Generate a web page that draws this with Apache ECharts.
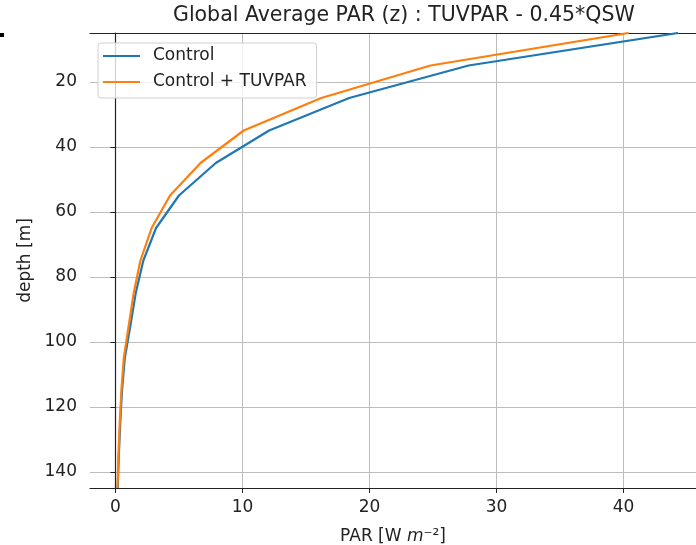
<!DOCTYPE html>
<html lang="en">
<head>
  <meta charset="UTF-8">
  <script src="https://cdn.jsdelivr.net/npm/echarts@6/dist/echarts.min.js"></script>
  <title>Global Average PAR</title>
  <style>
    html, body { margin: 0; background: #fff; }
    #chart { width: 696px; height: 545px; }
  </style>
</head>
<body>
  <div id="chart"></div>
  <script type="text/javascript">
    // depth levels [m] and PAR values [W m^-2]
    var depth = [5, 15, 25, 35, 45, 55, 65, 75, 85, 95, 105, 115, 125, 135, 145];
    var control = [44.3, 27.8, 18.4, 12.1, 7.9, 5.0, 3.2, 2.2, 1.6, 1.18, 0.74, 0.52, 0.38, 0.27, 0.18];
    var tuvpar = [40.4, 24.8, 16.2, 10.1, 6.7, 4.3, 2.85, 1.97, 1.44, 1.05, 0.66, 0.47, 0.34, 0.24, 0.16];
    var xTicks = [0, 10, 20, 30, 40];
    var yTicks = [20, 40, 60, 80, 100, 120, 140];

    function pairs(vals) {
      return vals.map(function (v, i) { return [v, depth[i]]; });
    }

    var font = 'DejaVu Sans';
    var ink = '#222';
    var chart = echarts.init(document.getElementById('chart'), null, { renderer: 'canvas' });

    var option = {
      animation: false,
      backgroundColor: '#fff',
      textStyle: { fontFamily: font },
      title: {
        text: 'Global Average PAR (z) : TUVPAR - 0.45*QSW',
        left: 173,
        top: 5,
        padding: 0,
        textStyle: { fontFamily: font, fontSize: 20.5, fontWeight: 'normal', color: ink }
      },
      legend: {
        orient: 'vertical',
        left: 98,
        top: 43,
        padding: [4, 10, 7, 5],
        icon: 'rect',
        itemWidth: 37,
        itemHeight: 2,
        itemGap: 8,
        borderColor: '#d0d0d0',
        borderWidth: 1,
        borderRadius: 3,
        backgroundColor: 'rgba(255,255,255,0.8)',
        textStyle: { fontFamily: font, fontSize: 17, lineHeight: 18, color: ink, padding: [0, 0, 0, 8] },
        data: ['Control', 'Control + TUVPAR']
      },
      grid: {
        left: 90,
        top: 33,
        right: 0,
        height: 455,
        containLabel: false,
        outerBoundsMode: 'none'
      },
      xAxis: [
        {
          type: 'value',
          min: -2,
          max: 45.7,
          name: '{a|PAR [W }{i|m}{a|⁻²]}',
          nameLocation: 'middle',
          nameGap: 40,
          nameTextStyle: {
            rich: {
              a: { fontFamily: font, fontSize: 17, color: ink },
              i: { fontFamily: font, fontSize: 17, fontStyle: 'italic', color: ink }
            }
          },
          axisLine: { show: true, lineStyle: { color: ink, width: 1.2 } },
          axisTick: { show: true, length: 5, customValues: xTicks, lineStyle: { color: ink, width: 1 } },
          axisLabel: { customValues: xTicks, fontFamily: font, fontSize: 17, color: ink, margin: 11 },
          splitLine: { show: true, lineStyle: { color: '#bdbdbd', width: 1 } }
        },
        {
          // top spine only
          type: 'value',
          position: 'top',
          min: -2,
          max: 45.7,
          axisLine: { show: true, lineStyle: { color: ink, width: 1.2 } },
          axisTick: { show: false },
          axisLabel: { show: false },
          splitLine: { show: false }
        }
      ],
      yAxis: {
        type: 'value',
        inverse: true,
        min: 5,
        max: 145,
        name: 'depth [m]',
        nameLocation: 'middle',
        nameGap: 47,
        nameTextStyle: { fontFamily: font, fontSize: 17, color: ink },
        axisLine: { show: true, lineStyle: { color: ink, width: 1.2 } },
        axisTick: { show: true, length: 5, customValues: yTicks, lineStyle: { color: ink, width: 1 } },
        axisLabel: { customValues: yTicks, fontFamily: font, fontSize: 17, color: ink, margin: 13 },
        splitLine: { show: true, lineStyle: { color: '#bdbdbd', width: 1 } }
      },
      graphic: [
        { type: 'rect', shape: { x: 0, y: 33, width: 4, height: 4 }, style: { fill: '#000' } }
      ],
      series: [
        {
          name: 'Control',
          type: 'line',
          data: pairs(control),
          symbol: 'none',
          color: '#1f77b4',
          lineStyle: { width: 2.2 }
        },
        {
          name: 'Control + TUVPAR',
          type: 'line',
          data: pairs(tuvpar),
          symbol: 'none',
          color: '#ff7f0e',
          lineStyle: { width: 2.2 }
        }
      ]
    };

    chart.setOption(option);
  </script>
</body>
</html>
